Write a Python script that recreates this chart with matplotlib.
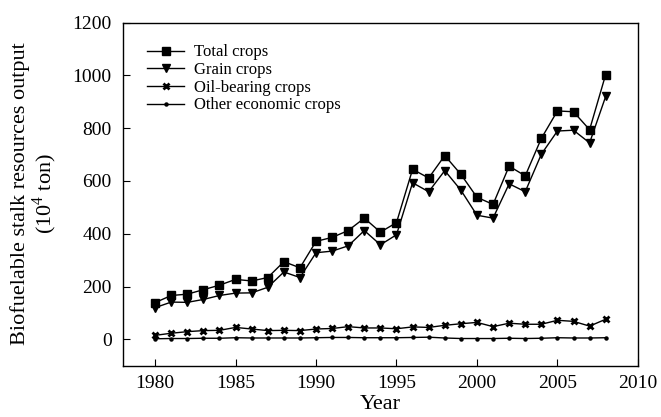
import matplotlib
matplotlib.use("Agg")
import matplotlib.pyplot as plt

plt.rcParams['font.family'] = ['Liberation Serif', 'DejaVu Serif']
plt.rcParams['mathtext.fontset'] = 'custom'
plt.rcParams['mathtext.rm'] = 'Liberation Serif'

years = list(range(1980, 2009))

total_crops = [139, 166, 171, 188, 205, 227, 221, 234, 294, 271,
               371, 386, 412, 459, 406, 442, 644, 611, 696, 625,
               538, 511, 656, 619, 761, 865, 862, 794, 1003]

grain_crops = [120, 141, 140, 151, 166, 175, 176, 197, 255, 234,
               328, 334, 354, 412, 358, 396, 593, 559, 639, 565,
               470, 459, 589, 559, 701, 789, 792, 744, 920]

oil_crops = [15, 23, 29, 33, 34, 45, 39, 33, 34, 33,
             39, 41, 48, 43, 43, 40, 47, 45, 53, 59,
             64, 48, 61, 57, 57, 72, 68, 50, 76]

other_crops = [2, 3, 3, 4, 4, 6, 5, 5, 5, 5,
               6, 7, 7, 6, 6, 6, 7, 8, 5, 3,
               3, 3, 4, 3, 4, 6, 5, 5, 6]

series_labels = ["Total crops", "Grain crops", "Oil-bearing crops",
                 "Other economic crops"]

fig = plt.figure(figsize=(6.61, 4.17), dpi=100)
ax = fig.add_axes([0.186, 0.123, 0.779, 0.823])

ax.plot(years, total_crops, color='black', lw=1.0, marker='s', ms=5.5,
        label=series_labels[0])
ax.plot(years, grain_crops, color='black', lw=1.0, marker='v', ms=5.5,
        label=series_labels[1])
ax.plot(years, oil_crops, color='black', lw=1.0, marker='x', ms=4.5,
        mew=2, label=series_labels[2])
ax.plot(years, other_crops, color='black', lw=1.0, marker='o', ms=2.2,
        label=series_labels[3])

ax.set_xlim(1978, 2010)
ax.set_ylim(-100, 1200)
ax.set_xticks([1980, 1985, 1990, 1995, 2000, 2005, 2010])
ax.set_yticks([0, 200, 400, 600, 800, 1000, 1200])
ax.tick_params(direction='in', labelsize=14, length=5, width=0.8,
               top=False, right=False)
ax.tick_params(axis='x', pad=7)
ax.tick_params(axis='y', pad=8)
for s in ax.spines.values():
    s.set_linewidth(1.0)

ax.set_xlabel("Year", fontsize=16, labelpad=2)
ax.set_ylabel("Biofuelable stalk resources output\n(10$^4$ ton)",
              fontsize=16, linespacing=1.0, labelpad=10)

ax.legend(loc='upper left', bbox_to_anchor=(0.025, 0.97), frameon=False,
          fontsize=12, handlelength=2.2, labelspacing=0.1,
          handletextpad=0.6, borderaxespad=0.3)

fig.savefig("out.png", dpi=100)
